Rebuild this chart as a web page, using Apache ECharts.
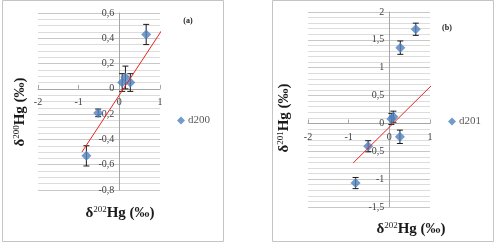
<!DOCTYPE html>
<html>
<head>
<meta charset="utf-8">
<script src="https://cdn.jsdelivr.net/npm/echarts@6/dist/echarts.min.js"></script>
<style>html,body{margin:0;padding:0;background:#fff;}#c{width:503px;height:246px;}</style>
</head>
<body>
<div id="c"></div>
<script>
// Panel (a): δ200Hg vs δ202Hg  [x, y, yErr]
const pointsA = [[0.66, 0.43, 0.08], [0.15, 0.09, 0.09], [0.07, 0.05, 0.07], [0.27, 0.05, 0.07], [-0.52, -0.19, 0.03], [-0.81, -0.53, 0.08]];
const trendA = [[-0.92, -0.50], [1.18, 0.53]];
// Panel (b): δ201Hg vs δ202Hg  [x, y, yErr]
const pointsB = [[0.65, 1.69, 0.11], [0.27, 1.36, 0.12], [0.05, 0.08, 0.10], [0.10, 0.12, 0.10], [0.26, -0.24, 0.12], [-0.52, -0.41, 0.10], [-0.83, -1.07, 0.10]];
const trendB = [[-0.89, -0.71], [1.09, 0.72]];
const xRange = [-2, 1, 1];        // min, max, interval
const yRangeA = [-0.8, 0.6, 0.2];
const yRangeB = [-1.5, 2, 0.5];
const seriesNames = ['d200', 'd201'];
const xTitle = 'δ{s|202}Hg (‰)';
const yTitleA = 'δ{s|200}Hg (‰)';
const yTitleB = 'δ{s|201}Hg (‰)';

const grids = [
  {left: 38, top: 13, width: 122, height: 177},
  {left: 308, top: 12, width: 122, height: 195}
];
const blue = '#4f81bd';
const fmt = v => String(Math.round(v * 10) / 10).replace('.', ',');
const labelFont = {fontFamily: 'Liberation Serif', fontSize: 10, color: '#404040'};

// place axes where the other axis is zero (Excel "axis crosses at 0")
function xAxis(gi, yr) {
  const g = grids[gi];
  const off = -(0 - yr[0]) / (yr[1] - yr[0]) * g.height;
  return {
    gridIndex: gi, type: 'value', min: xRange[0], max: xRange[1], interval: xRange[2],
    position: 'bottom', offset: off,
    axisLine: {onZero: false, lineStyle: {color: '#a6a6a6', width: 1}},
    axisTick: {show: true, inside: true, length: 4, lineStyle: {color: '#a6a6a6'}},
    axisLabel: Object.assign({margin: 9, formatter: fmt}, labelFont),
    splitLine: {show: false}
  };
}
function yAxis(gi, r, minorN) {
  const g = grids[gi];
  const off = -(0 - xRange[0]) / (xRange[1] - xRange[0]) * g.width;
  return {
    gridIndex: gi, type: 'value', min: r[0], max: r[1], interval: r[2],
    position: 'left', offset: off,
    axisLine: {show: true, onZero: false, lineStyle: {color: '#a6a6a6', width: 1}},
    axisTick: {show: false},
    axisLabel: Object.assign({margin: 5, formatter: fmt}, labelFont),
    splitLine: {show: true, lineStyle: {color: '#c8c8c8', width: 1}},
    minorTick: {show: true, splitNumber: minorN, length: 0, lineStyle: {width: 0}},
    minorSplitLine: {show: true, lineStyle: {color: '#dcdcdc', width: 1}}
  };
}
function errSeries(gi, pts) {
  return {
    type: 'custom', xAxisIndex: gi, yAxisIndex: gi, silent: true, z: 3,
    data: pts.map(p => [p[0], p[1], p[2]]),
    renderItem: function (params, api) {
      const x = api.value(0), y = api.value(1), e = api.value(2);
      const top = api.coord([x, y + e]);
      const bot = api.coord([x, y - e]);
      const cw = 3;
      const st = {stroke: '#1a1a1a', lineWidth: 1};
      return {type: 'group', children: [
        {type: 'line', shape: {x1: top[0], y1: top[1], x2: bot[0], y2: bot[1]}, style: st},
        {type: 'line', shape: {x1: top[0] - cw, y1: top[1], x2: top[0] + cw, y2: top[1]}, style: st},
        {type: 'line', shape: {x1: bot[0] - cw, y1: bot[1], x2: bot[0] + cw, y2: bot[1]}, style: st}
      ]};
    }
  };
}
function scatter(gi, name, pts) {
  return {type: 'scatter', name: name, xAxisIndex: gi, yAxisIndex: gi, symbol: 'diamond', symbolSize: 10,
    itemStyle: {color: blue}, z: 4, data: pts.map(p => [p[0], p[1]])};
}
function trend(gi, t) {
  return {type: 'line', xAxisIndex: gi, yAxisIndex: gi, data: t, symbol: 'none', clip: false, silent: true, z: 5,
    lineStyle: {color: '#e8231f', width: 1}};
}
const titleStyle = {
  fontFamily: 'Liberation Serif', fontSize: 15, fontWeight: 'bold', fill: '#1a1a1a', lineHeight: 16,
  rich: {s: {fontSize: 9, lineHeight: 9, fontFamily: 'Liberation Serif', fontWeight: 'normal', verticalAlign: 'top', fill: '#1a1a1a'}}
};
function txt(x, y, text, rot, extra) {
  return {type: 'text', x: x, y: y, rotation: rot || 0,
    style: Object.assign({text: text, align: 'center', verticalAlign: 'middle'}, titleStyle, extra || {})};
}

const chart = echarts.init(document.getElementById('c'), null, {renderer: 'canvas'});
chart.setOption({
  animation: false,
  backgroundColor: '#fff',
  grid: grids,
  xAxis: [xAxis(0, yRangeA), xAxis(1, yRangeB)],
  yAxis: [yAxis(0, yRangeA, 4), yAxis(1, yRangeB, 5)],
  legend: [
    {data: [seriesNames[0]], left: 177, top: 115, padding: 0, icon: 'diamond', itemWidth: 8, itemHeight: 8, itemGap: 4,
      textStyle: {fontFamily: 'Liberation Serif', fontSize: 11, color: '#595959', padding: [0, 0, 0, -2]}},
    {data: [seriesNames[1]], left: 448, top: 116, padding: 0, icon: 'diamond', itemWidth: 8, itemHeight: 8, itemGap: 4,
      textStyle: {fontFamily: 'Liberation Serif', fontSize: 11, color: '#595959', padding: [0, 0, 0, -2]}}
  ],
  series: [
    errSeries(0, pointsA), scatter(0, seriesNames[0], pointsA), trend(0, trendA),
    errSeries(1, pointsB), scatter(1, seriesNames[1], pointsB), trend(1, trendB)
  ],
  graphic: [
    {type: 'rect', shape: {x: 2.5, y: 0.5, width: 221, height: 241}, style: {fill: null, stroke: '#c4c4c4', lineWidth: 1}, silent: true},
    {type: 'rect', shape: {x: 272.5, y: 0.5, width: 221, height: 241}, style: {fill: null, stroke: '#c4c4c4', lineWidth: 1}, silent: true},
    txt(120, 213, xTitle),
    txt(411, 229, xTitle),
    txt(20, 112, yTitleA, Math.PI / 2),
    txt(284, 118, yTitleB, Math.PI / 2),
    txt(188, 21, '(a)', 0, {fontSize: 8, lineHeight: 9}),
    txt(447, 28, '(b)', 0, {fontSize: 8, lineHeight: 9})
  ]
});
</script>
</body>
</html>
